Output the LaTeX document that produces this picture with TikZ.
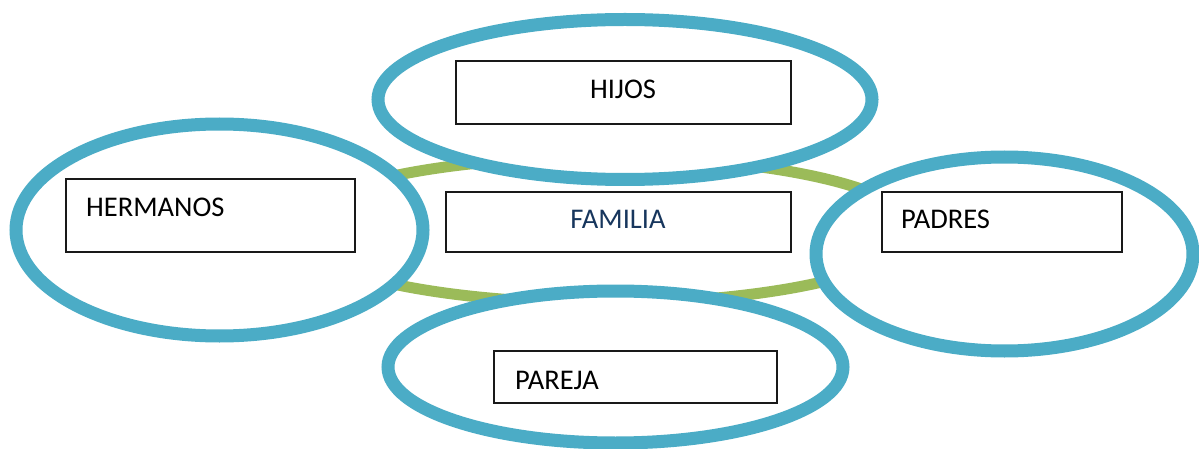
\documentclass[tikz,border=0pt]{standalone}
\usepackage{fontspec}
\setmainfont{Carlito}
\usetikzlibrary{shapes.geometric}
\definecolor{ringblue}{HTML}{4BACC6}
\definecolor{ringgreen}{HTML}{9BBB59}
\definecolor{navy}{HTML}{17365D}
\tikzset{
  bubble/.style={ellipse, draw=ringblue, fill=white, line width=13pt, inner sep=0pt},
  ring/.style={ellipse, draw=ringgreen, line width=11pt, inner sep=0pt},
  box/.style={rectangle, draw=black!90, fill=white, line width=1.1pt, inner sep=0pt},
  lbl/.style={inner sep=0pt, font=\fontsize{28.5}{34}\selectfont}
}
\begin{document}
\begin{tikzpicture}[x=1pt,y=-1pt]
\useasboundingbox (0,0) rectangle (1199,449);
% green ring behind
\node[ring, minimum width=624pt, minimum height=146pt] (ringc) at (603,230) {};
% blue ellipses
\node[bubble, minimum width=494pt, minimum height=160pt] (hijosE) at (625,99.5) {};
\node[bubble, minimum width=407pt, minimum height=212pt] (hermE) at (219.5,230) {};
\node[bubble, minimum width=377pt, minimum height=194pt] (padE) at (1004.5,254) {};
\node[bubble, minimum width=455pt, minimum height=152pt] (parE) at (615.5,367) {};
% boxes
\node[box, minimum width=335pt, minimum height=63pt] (hijosB) at (623.5,92.5) {};
\node[box, minimum width=345pt, minimum height=60pt] (famB) at (618.5,222) {};
\node[box, minimum width=289pt, minimum height=73pt] (hermB) at (210.5,215.5) {};
\node[box, minimum width=240pt, minimum height=60pt] (padB) at (1002,222) {};
\node[box, minimum width=283pt, minimum height=52pt] (parB) at (635.5,377) {};
% texts
\node[lbl, anchor=base] (hijosT) at (623,99) {HIJOS};
\node[lbl, anchor=base, text=navy] (famT) at (618,229) {FAMILIA};
\node[lbl, anchor=base west] (hermT) at (86,216) {HERMANOS};
\node[lbl, anchor=base west] (padT) at (901,229) {PADRES};
\node[lbl, anchor=base west] (parT) at (515,389) {PAREJA};
\end{tikzpicture}
\end{document}
